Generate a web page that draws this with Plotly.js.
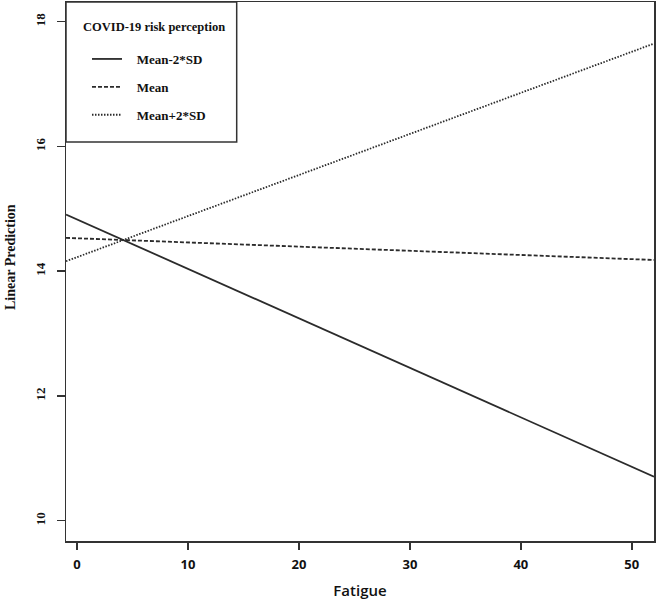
<!DOCTYPE html>
<html>
<head>
<meta charset="utf-8">
<script src="https://cdn.plot.ly/plotly-3.0.1.min.js"></script>
<style>html,body{margin:0;padding:0;background:#fff;}#chart{width:656px;height:603px;}</style>
</head>
<body>
<div id="chart"></div>
<script>
// Fatigue values at the ends of the plotted range
const fatigue = [-1, 52];
// Linear predictions for each level of COVID-19 risk perception
const meanMinus2SD = [14.91, 10.705];
const meanLevel = [14.535, 14.18];
const meanPlus2SD = [14.16, 17.65];
const seriesNames = ['Mean-2*SD', 'Mean', 'Mean+2*SD'];
const legendTitle = 'COVID-19 risk perception';
const xTicks = [0, 10, 20, 30, 40, 50];
const yTicks = [10, 12, 14, 16, 18];

const lineColor = '#2b2b2b';
const serif = 'Liberation Serif, Times New Roman, serif';
const sans = 'Open Sans, Liberation Sans, sans-serif';
const pad = '\u00a0\u00a0\u00a0';

const traces = [
  {x: fatigue, y: meanMinus2SD, name: seriesNames[0], dash: 'solid'},
  {x: fatigue, y: meanLevel, name: seriesNames[1], dash: '4px,2px'},
  {x: fatigue, y: meanPlus2SD, name: seriesNames[2], dash: '1.5px,1.5px'}
].map((t, i) => ({
  type: 'scatter', mode: 'lines', x: t.x, y: t.y, name: pad + t.name,
  legendgroup: 'g' + i,
  line: {color: lineColor, width: 1.8, dash: t.dash},
  hoverinfo: 'skip'
}));

const layout = {
  width: 656, height: 603,
  margin: {l: 66, r: 2, t: 2, b: 62},
  paper_bgcolor: '#fff', plot_bgcolor: '#fff',
  showlegend: true,
  legend: {
    x: 0.0357, y: 0.9221, xanchor: 'left', yanchor: 'top',
    bgcolor: 'rgba(0,0,0,0)', borderwidth: 0,
    traceorder: 'grouped', tracegroupgap: 8,
    font: {family: serif, size: 13, color: '#111', weight: 'bold'},
    itemwidth: 30
  },
  xaxis: {
    range: [-1, 52], tickvals: xTicks, ticktext: xTicks.map(String),
    showgrid: false, zeroline: false,
    showline: true, mirror: true, linecolor: '#333', linewidth: 1.5,
    ticks: 'outside', ticklen: 7, tickwidth: 1.5, tickcolor: '#333',
    tickfont: {family: sans, size: 13, color: '#111', weight: 'bold'},
    ticklabelstandoff: 4,
    title: {text: 'Fatigue', standoff: 13,
            font: {family: sans, size: 15, color: '#111', weight: 600}}
  },
  yaxis: {
    range: [9.675, 18.316], tickvals: yTicks, ticktext: yTicks.map(String),
    showgrid: false, zeroline: false,
    showline: true, mirror: true, linecolor: '#333', linewidth: 1.5,
    ticks: 'outside', ticklen: 8, tickwidth: 1.5, tickcolor: '#333',
    tickangle: -90, ticklabelstandoff: 6,
    tickfont: {family: serif, size: 13, color: '#111', weight: 'bold'}
  },
  shapes: [{
    type: 'rect', xref: 'paper', yref: 'paper',
    x0: 0, x1: 0.2903, y0: 0.7403, y1: 1,
    line: {color: '#333', width: 1.5}, fillcolor: 'rgba(0,0,0,0)'
  }],
  annotations: [{
    text: 'Linear Prediction', textangle: -90,
    xref: 'paper', yref: 'paper', x: -0.0952, y: 0.5269,
    xanchor: 'center', yanchor: 'middle', showarrow: false,
    font: {family: serif, size: 14, color: '#111', weight: 'bold'}
  }, {
    text: legendTitle,
    xref: 'paper', yref: 'paper', x: 0.025, y: 0.9542,
    xanchor: 'left', yanchor: 'middle', showarrow: false,
    font: {family: serif, size: 12.5, color: '#111', weight: 'bold'}
  }]
};

Plotly.newPlot('chart', traces, layout, {displayModeBar: false, staticPlot: true});
</script>
</body>
</html>
